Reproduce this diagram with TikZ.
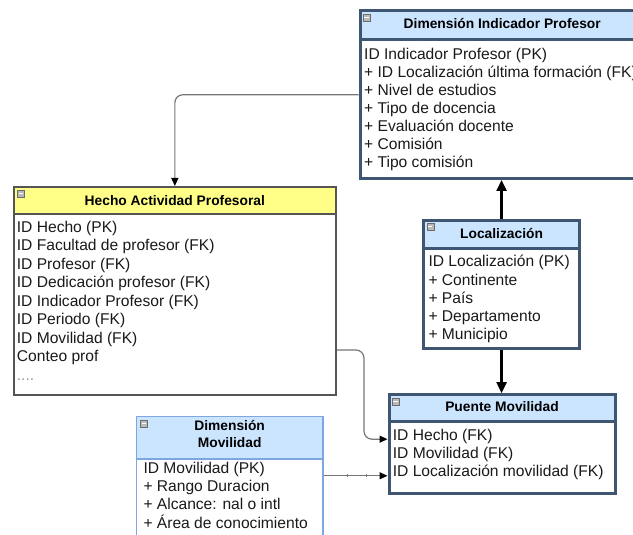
\documentclass[tikz,border=0pt]{standalone}
\usepackage{fontspec}
\setmainfont{Liberation Sans}
\usetikzlibrary{arrows.meta,calc}
\definecolor{hdrblue}{HTML}{CCE5FF}
\definecolor{hdryel}{HTML}{FFFF88}
\definecolor{slate}{HTML}{3F5673}
\definecolor{dmblue}{HTML}{7EA6E0}
\definecolor{hgray}{HTML}{555555}
\definecolor{conngray}{HTML}{777777}
\definecolor{txt}{HTML}{1A1A1A}
\tikzset{
  box/.style={rectangle, draw, fill=white, inner sep=0pt, anchor=north west},
  hdr/.style={rectangle, draw, inner sep=0pt, anchor=north west},
  hdrtext/.style={font=\fontsize{13.8}{16.6}\selectfont\bfseries, text=black, anchor=base, inner sep=0pt},
  row/.style={font=\fontsize{15.6}{18}\selectfont, text=txt, anchor=base west, inner sep=0pt},
  minusicon/.style={rectangle, minimum size=7pt, inner sep=0pt, fill=gray!55, draw=gray!85!black, line width=0.4pt,
    path picture={\draw[white, line width=1.2pt] ([xshift=1.3pt]path picture bounding box.west) -- ([xshift=-1.3pt]path picture bounding box.east);}},
  conn/.style={draw=conngray, line width=1.2pt, rounded corners=8pt, -{Triangle[length=8pt,width=7pt,color=black]}},
  bigarrow/.style={draw=black, line width=2.4pt, -{Triangle[length=11pt,width=10pt]}},
}
\begin{document}
\begin{tikzpicture}[x=1pt,y=-1pt]
\useasboundingbox (0,0) rectangle (633,535);
\clip (0,0) rectangle (633,535);
\fill[white] (0,0) rectangle (633,535);

% Dimension Indicador Profesor
\node[box, draw=slate, line width=3pt, minimum width=284.5pt, minimum height=167.5pt] (dip) at (358.5,9.5) {};
\node[hdr, fill=hdrblue, draw=slate, line width=3pt, minimum width=284.5pt, minimum height=28.8pt] (dipH) at (dip.north west) {};
\node[minusicon] (dipM) at ($(dipH.north west)+(8,8)$) {};
\node[hdrtext] (dipT) at ($(dipH.north)+(0,18.8)$) {Dimensión Indicador Profesor};
\foreach \t [count=\i] in {ID Indicador Profesor (PK), + ID Localización última formación (FK), + Nivel de estudios, + Tipo de docencia, + Evaluación docente, + Comisión, + Tipo comisión}
  \node[row] (dipr\i) at (364,{59.3+18.07*(\i-1)}) {\t};

% Hecho Actividad Profesoral
\node[box, draw=hgray, line width=2pt, minimum width=322.3pt, minimum height=208pt] (hecho) at (12.7,186) {};
\node[hdr, fill=hdryel, draw=hgray, line width=2pt, minimum width=322.3pt, minimum height=26.7pt] (hechoH) at (hecho.north west) {};
\node[minusicon] (hechoM) at ($(hechoH.north west)+(8,7.5)$) {};
\node[hdrtext] (hechoT) at ($(hechoH.north)+(0,19)$) {Hecho Actividad Profesoral};
\foreach \t [count=\i] in {ID Hecho (PK), ID Facultad de profesor (FK), ID Profesor (FK), ID Dedicación profesor (FK), ID Indicador Profesor (FK), ID Periodo (FK), ID Movilidad (FK), Conteo prof}
  \node[row] (hechor\i) at (16.7,{232.3+18.5*(\i-1)}) {\t};
\node[row, text=gray!80] (hechodots) at (16.7,380.2) {....};

% Localizacion
\node[box, draw=slate, line width=3pt, minimum width=155.8pt, minimum height=128pt] (loc) at (422.2,218.8) {};
\node[hdr, fill=hdrblue, draw=slate, line width=3pt, minimum width=155.8pt, minimum height=28pt] (locH) at (loc.north west) {};
\node[minusicon] (locM) at ($(locH.north west)+(8,8)$) {};
\node[hdrtext] (locT) at ($(locH.north)+(0,19.5)$) {Localización};
\foreach \t [count=\i] in {ID Localización (PK), + Continente, + País, + Departamento, + Municipio}
  \node[row] (locr\i) at (428.3,{266.7+18.3*(\i-1)}) {\t};

% Puente Movilidad
\node[box, draw=slate, line width=3pt, minimum width=226pt, minimum height=98.6pt] (puente) at (387.5,393.2) {};
\node[hdr, fill=hdrblue, draw=slate, line width=3pt, minimum width=226pt, minimum height=27pt] (puenteH) at (puente.north west) {};
\node[minusicon] (puenteM) at ($(puenteH.north west)+(8,8)$) {};
\node[hdrtext] (puenteT) at ($(puenteH.north)+(0,18.5)$) {Puente Movilidad};
\foreach \t [count=\i] in {ID Hecho (FK), ID Movilidad (FK), ID Localización movilidad (FK)}
  \node[row] (puenter\i) at (392.7,{440+18.3*(\i-1)}) {\t};

% Dimension Movilidad
\node[box, draw=dmblue, line width=1.5pt, minimum width=186.2pt, minimum height=150pt] (dm) at (135.8,415.8) {};
\node[hdr, fill=hdrblue, draw=dmblue, line width=1.5pt, minimum width=186.2pt, minimum height=42.5pt] (dmH) at (dm.north west) {};
\node[minusicon] (dmM) at ($(dmH.north west)+(8,8)$) {};
\node[hdrtext] (dmT1) at ($(dmH.north)+(0,14.9)$) {Dimensión};
\node[hdrtext] (dmT2) at ($(dmH.north)+(0,31.5)$) {Movilidad};
\foreach \t [count=\i] in {ID Movilidad (PK), + Rango Duracion, + Alcance: nal o intl, + Área de conocimiento}
  \node[row] (dmr\i) at (143.3,{473.3+18.3*(\i-1)}) {\t};

% connectors
\draw[conn] (dip.west) -| (hecho.north);
\coordinate (hOut) at ([yshift=-59pt]hecho.east);
\coordinate (pIn1) at ([yshift=4.8pt]puente.west);
\coordinate (pIn2) at ([yshift=-31.8pt]puente.west);
\draw[conn] (hOut) -- ++(27,0) |- (pIn1);
\draw[conn] (dm.east |- pIn2) -- (pIn2);
\draw[conngray, line width=0.6pt] ($(dm.east |- pIn2)+(24,-1.5)$) -- ++(0,3);
\draw[conngray, line width=0.6pt] ($(dm.east |- pIn2)+(42.3,-1.5)$) -- ++(0,3);
\draw[bigarrow] (loc.north) -- (loc.north |- dip.south);
\draw[bigarrow] (loc.south) -- (loc.south |- puente.north);
\end{tikzpicture}
\end{document}
